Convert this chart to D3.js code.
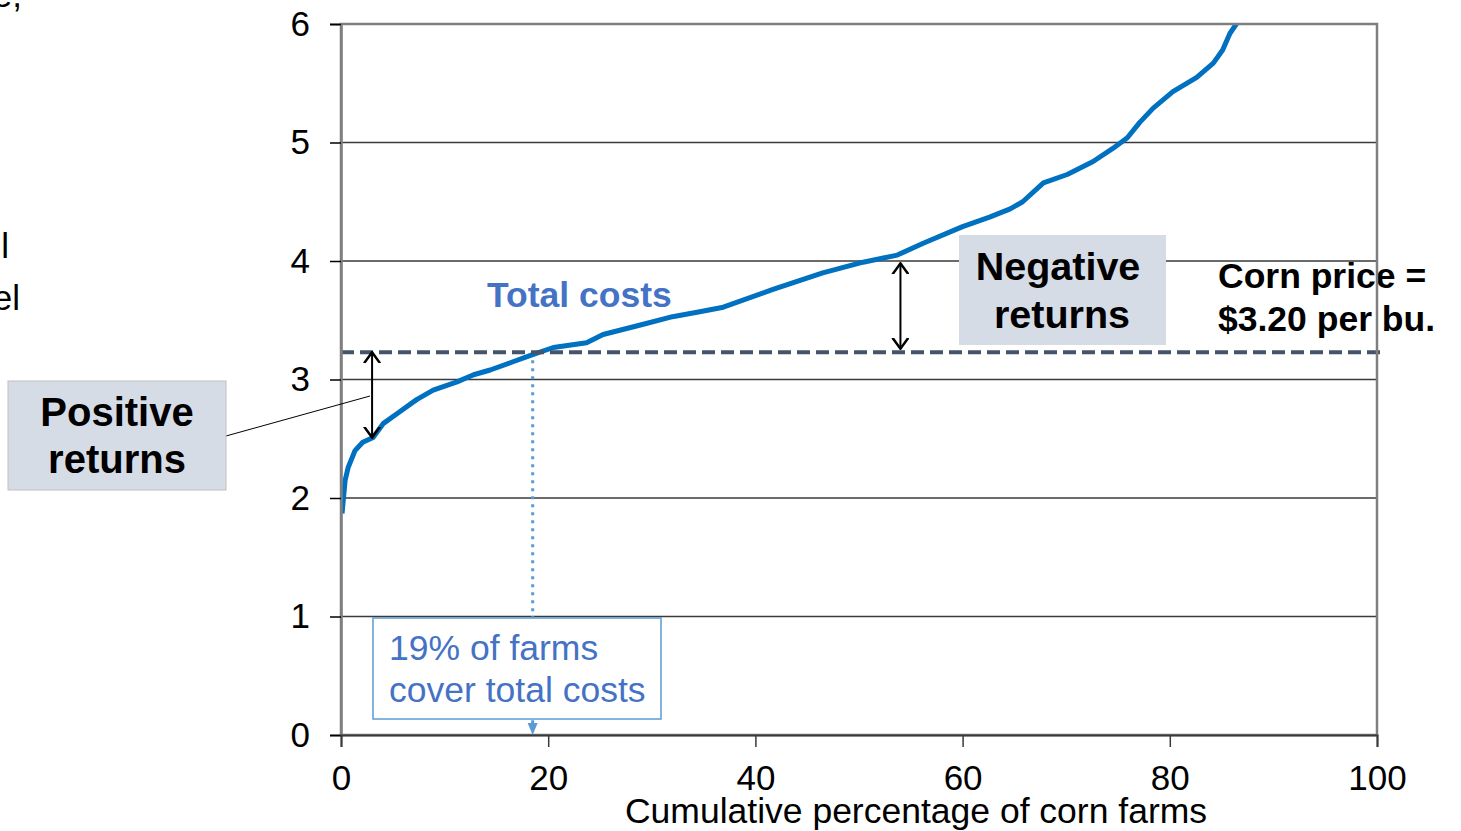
<!DOCTYPE html>
<html>
<head>
<meta charset="utf-8">
<script src="https://d3js.org/d3.v7.min.js"></script>
<style>
  body { margin: 0; background: #fff; }
  svg { font-family: "Liberation Sans", Arial, sans-serif; }
</style>
</head>
<body>
<script>

// cumulative percentage of farms vs total cost per bushel
var farmPct = [0.1, 0.4, 0.7, 1.35, 2.1, 3.1, 4.1, 5.7, 7.3, 8.9, 11.2, 12.8, 14.4, 16.6, 18.5,
  20.5, 23.7, 25.3, 28.9, 32.0, 34.5, 36.9, 41.7, 46.5, 50.4, 53.7, 56.2, 60.0, 62.6, 64.6,
  65.8, 67.8, 70.1, 72.6, 74.5, 75.9, 77.1, 78.4, 80.3, 82.6, 84.2, 85.1, 85.8, 86.5, 88.0];
var totalCost = [1.87, 2.15, 2.26, 2.40, 2.47, 2.51, 2.63, 2.73, 2.83, 2.91, 2.98, 3.04, 3.08, 3.15, 3.21,
  3.27, 3.31, 3.38, 3.46, 3.53, 3.57, 3.61, 3.76, 3.90, 3.99, 4.05, 4.15, 4.29, 4.37, 4.44,
  4.50, 4.66, 4.73, 4.84, 4.95, 5.04, 5.17, 5.29, 5.43, 5.55, 5.67, 5.78, 5.92, 6.01, 6.30];

var yTicks = [0, 1, 2, 3, 4, 5, 6];
var xTicks = [0, 20, 40, 60, 80, 100];
var cornPrice = 3.23;      // dashed line level
var breakEvenPct = 18.5;   // dotted drop line
var posArrow = {x: 3.0, top: 3.23, bottom: 2.51};
var negArrow = {x: 54.0, top: 3.98, bottom: 3.26};

var margin = {top: 24, right: 84, bottom: 96, left: 341},
    width = 1461 - margin.left - margin.right,
    height = 831 - margin.top - margin.bottom;

var x = d3.scaleLinear().domain([0, 100]).range([0, width]);
var y = d3.scaleLinear().domain([0, 6]).range([height, 0]);

var root = d3.select("body").append("svg")
    .attr("width", 1461)
    .attr("height", 831);

// cut-off slide text at the far left
root.append("text").attr("x", 22).attr("y", 7).attr("text-anchor", "end")
    .style("font-size", "35px").text("e,");
root.append("text").attr("x", 9).attr("y", 258).attr("text-anchor", "end")
    .style("font-size", "35px").text("l");
root.append("text").attr("x", 20).attr("y", 310).attr("text-anchor", "end")
    .style("font-size", "35px").text("el");

var defs = root.append("defs");
defs.append("clipPath").attr("id", "plotclip")
  .append("rect").attr("width", width).attr("height", height);
defs.append("marker")
    .attr("id", "vhead")
    .attr("markerUnits", "userSpaceOnUse")
    .attr("viewBox", "0 -9 12 18")
    .attr("refX", 11).attr("refY", 0)
    .attr("markerWidth", 12).attr("markerHeight", 18)
    .attr("orient", "auto-start-reverse")
  .append("path")
    .attr("d", "M0,-8L11,0L0,8")
    .attr("fill", "none")
    .attr("stroke", "#000")
    .attr("stroke-width", 2.5);

var svg = root.append("g")
    .attr("transform", "translate(" + margin.left + "," + margin.top + ")");

// gridlines
svg.append("g")
  .selectAll("line")
  .data(yTicks.slice(1, -1))
  .enter().append("line")
    .attr("x1", 0).attr("x2", width)
    .attr("y1", function(d) { return y(d); })
    .attr("y2", function(d) { return y(d); })
    .attr("stroke", "#3a3a3a")
    .attr("stroke-width", 1.5);

// negative returns box (behind curve)
svg.append("rect")
    .attr("x", 959 - margin.left).attr("y", 235 - margin.top)
    .attr("width", 207).attr("height", 110)
    .attr("fill", "#d6dce5");
svg.append("text")
    .attr("x", 1058 - margin.left).attr("y", 280 - margin.top)
    .attr("text-anchor", "middle")
    .style("font-size", "39.5px").style("font-weight", "bold")
    .text("Negative");
svg.append("text")
    .attr("x", 1062 - margin.left).attr("y", 328 - margin.top)
    .attr("text-anchor", "middle")
    .style("font-size", "39.5px").style("font-weight", "bold")
    .text("returns");

// dotted drop line at break-even share
svg.append("line")
    .attr("x1", x(breakEvenPct)).attr("x2", x(breakEvenPct))
    .attr("y1", y(cornPrice)).attr("y2", y(0) - 12)
    .attr("stroke", "#5b9bd5")
    .attr("stroke-width", 3)
    .attr("stroke-dasharray", "3,5");
svg.append("path")
    .attr("d", "M" + (x(breakEvenPct) - 5) + "," + (y(0) - 12) +
               "L" + (x(breakEvenPct) + 5) + "," + (y(0) - 12) +
               "L" + x(breakEvenPct) + "," + y(0) + "Z")
    .attr("fill", "#5b9bd5");

// 19% box
svg.append("rect")
    .attr("x", 373 - margin.left).attr("y", 618 - margin.top)
    .attr("width", 288).attr("height", 101)
    .attr("fill", "#fff")
    .attr("stroke", "#5b9bd5")
    .attr("stroke-width", 1.5);
svg.append("text")
    .attr("x", 389 - margin.left).attr("y", 660 - margin.top)
    .attr("fill", "#4472c4")
    .style("font-size", "35.5px")
    .text("19% of farms");
svg.append("text")
    .attr("x", 389 - margin.left).attr("y", 702 - margin.top)
    .attr("fill", "#4472c4")
    .style("font-size", "35.5px")
    .text("cover total costs");

// total cost curve
var costLine = d3.line()
    .x(function(d, i) { return x(farmPct[i]); })
    .y(function(d) { return y(d); });

svg.append("path")
    .datum(totalCost)
    .attr("clip-path", "url(#plotclip)")
    .attr("fill", "none")
    .attr("stroke", "#0070c0")
    .attr("stroke-width", 5)
    .attr("stroke-linejoin", "round")
    .attr("d", costLine);

// corn price line
svg.append("line")
    .attr("x1", x(0)).attr("x2", x(100) + 3)
    .attr("y1", y(cornPrice)).attr("y2", y(cornPrice))
    .attr("stroke", "#44546a")
    .attr("stroke-width", 4)
    .attr("stroke-dasharray", "13,6");

// double headed arrows
[posArrow, negArrow].forEach(function(a) {
  svg.append("line")
      .attr("x1", x(a.x)).attr("x2", x(a.x))
      .attr("y1", y(a.top)).attr("y2", y(a.bottom))
      .attr("stroke", "#000")
      .attr("stroke-width", 2)
      .attr("marker-start", "url(#vhead)")
      .attr("marker-end", "url(#vhead)");
});

svg.append("text")
    .attr("x", 487 - margin.left).attr("y", 307 - margin.top)
    .attr("fill", "#4472c4")
    .style("font-size", "35.5px").style("font-weight", "bold")
    .text("Total costs");

// corn price label
svg.append("text")
    .attr("x", 1218 - margin.left).attr("y", 288 - margin.top)
    .style("font-size", "35.5px").style("font-weight", "bold")
    .text("Corn price =");
svg.append("text")
    .attr("x", 1218 - margin.left).attr("y", 331 - margin.top)
    .style("font-size", "35.5px").style("font-weight", "bold")
    .text("$3.20 per bu.");

// plot border
svg.append("rect")
    .attr("width", width).attr("height", height)
    .attr("fill", "none")
    .attr("stroke", "#7f7f7f")
    .attr("stroke-width", 2.5);

// axes
var yAxis = svg.append("g")
    .call(d3.axisLeft(y).tickValues(yTicks).tickSize(11).tickPadding(20).tickFormat(d3.format("d")));
yAxis.select(".domain").attr("stroke", "#7f7f7f").attr("stroke-width", 2.5);
yAxis.selectAll(".tick line").attr("stroke", "#000").attr("stroke-width", 1.5);
yAxis.selectAll("text").style("font-size", "35px").attr("fill", "#000")
    .style("font-family", "Liberation Sans, Arial, sans-serif");

var xAxis = svg.append("g")
    .attr("transform", "translate(0," + height + ")")
    .call(d3.axisBottom(x).tickValues(xTicks).tickSize(12).tickPadding(18).tickFormat(d3.format("d")));
xAxis.select(".domain").attr("stroke", "#3a3a3a").attr("stroke-width", 2);
xAxis.selectAll(".tick line").attr("stroke", "#3a3a3a").attr("stroke-width", 1.5);
xAxis.selectAll("text").style("font-size", "35px").attr("fill", "#000")
    .style("font-family", "Liberation Sans, Arial, sans-serif");

svg.append("text")
    .attr("x", 916 - margin.left).attr("y", 823 - margin.top)
    .attr("text-anchor", "middle")
    .style("font-size", "35.5px")
    .text("Cumulative percentage of corn farms");

// positive returns callout (outside plot)
root.append("line")
    .attr("x1", 226).attr("y1", 436)
    .attr("x2", 370).attr("y2", 396)
    .attr("stroke", "#000")
    .attr("stroke-width", 1);
root.append("rect")
    .attr("x", 8).attr("y", 381)
    .attr("width", 218).attr("height", 109)
    .attr("fill", "#d6dce5")
    .attr("stroke", "#bfbfbf")
    .attr("stroke-width", 1);
root.append("text")
    .attr("x", 117).attr("y", 426)
    .attr("text-anchor", "middle")
    .style("font-size", "40px").style("font-weight", "bold")
    .text("Positive");
root.append("text")
    .attr("x", 117).attr("y", 473)
    .attr("text-anchor", "middle")
    .style("font-size", "40px").style("font-weight", "bold")
    .text("returns");

</script>
</body>
</html>
